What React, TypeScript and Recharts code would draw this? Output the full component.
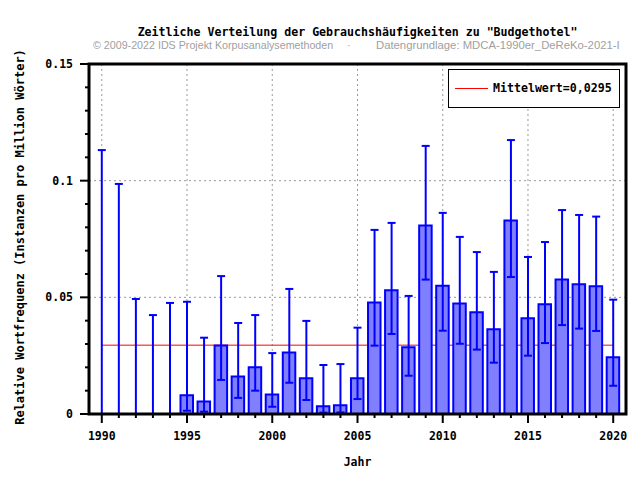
import {
  ComposedChart,
  Bar,
  Scatter,
  ErrorBar,
  XAxis,
  YAxis,
  CartesianGrid,
  ReferenceLine,
  ReferenceArea,
} from 'recharts';

const YEARS = [
  1990, 1991, 1992, 1993, 1994, 1995, 1996, 1997, 1998, 1999, 2000,
  2001, 2002, 2003, 2004, 2005, 2006, 2007, 2008, 2009, 2010,
  2011, 2012, 2013, 2014, 2015, 2016, 2017, 2018, 2019, 2020,
];

const VALUES = [
  0, 0, 0, 0, 0, 0.008, 0.0054, 0.0294, 0.0161, 0.02, 0.0084,
  0.0264, 0.0153, 0.0033, 0.0037, 0.0153, 0.0478, 0.053, 0.0286, 0.0808, 0.055,
  0.0474, 0.0436, 0.0363, 0.0829, 0.041, 0.047, 0.0576, 0.0556, 0.0547, 0.0243,
];

const UPPER = [
  0.1131, 0.0986, 0.0493, 0.0424, 0.0476, 0.0481, 0.0327, 0.0591, 0.039, 0.0424, 0.0261,
  0.0536, 0.0399, 0.021, 0.0214, 0.037, 0.0789, 0.0819, 0.0506, 0.1149, 0.0862,
  0.0759, 0.0694, 0.0609, 0.1174, 0.0673, 0.0737, 0.0874, 0.0853, 0.0846, 0.049,
];

const LOWER = [
  0, 0, 0, 0, 0, 0.0014, 0.001, 0.0146, 0.0069, 0.01, 0.0031,
  0.0134, 0.006, 0.0006, 0.0007, 0.0064, 0.0293, 0.0343, 0.0164, 0.0576, 0.0357,
  0.0301, 0.0276, 0.022, 0.0587, 0.025, 0.0304, 0.0381, 0.0366, 0.0356, 0.0121,
];

const MEAN = 0.0295;

const X_MAJOR = [1990, 1995, 2000, 2005, 2010, 2015, 2020];
const Y_TICKS = [
  0, 0.01, 0.02, 0.03, 0.04, 0.05, 0.06, 0.07, 0.08, 0.09, 0.1,
  0.11, 0.12, 0.13, 0.14, 0.15,
];
const Y_LABELS: Record<string, string> = { '0': '0', '0.05': '0.05', '0.1': '0.1', '0.15': '0.15' };
const Y_GRID = [0.05, 0.1];

const X_DOMAIN = [1989.25, 2020.75];
const Y_DOMAIN = [0, 0.15];

const MONO = '"DejaVu Sans Mono", monospace';
const SANS = '"Liberation Sans", Arial, sans-serif';

// error bar offsets are relative to the bar value
const rows = YEARS.map((year, i) => ({
  year,
  value: VALUES[i],
  err: [VALUES[i] - LOWER[i], UPPER[i] - VALUES[i]],
}));

const XTick = ({ x, y, payload }: any) => {
  const major = X_MAJOR.includes(payload.value);
  return (
    <g>
      <line x1={x} x2={x} y1={y} y2={y + (major ? 9 : 4)} stroke="#000" strokeWidth={2} />
      {major && (
        <text x={x} y={y + 26} textAnchor="middle" fontFamily={MONO} fontWeight="bold" fontSize={11.5} fill="#000">
          {payload.value}
        </text>
      )}
    </g>
  );
};

const YTick = ({ x, y, payload }: any) => {
  const label = Y_LABELS[String(payload.value)];
  return (
    <g>
      <line x1={x - (label ? 9 : 4)} x2={x} y1={y} y2={y} stroke="#000" strokeWidth={2} />
      {label && (
        <text x={x - 16} y={y + 4} textAnchor="end" fontFamily={MONO} fontWeight="bold" fontSize={11.5} fill="#000">
          {label}
        </text>
      )}
    </g>
  );
};

export default function App() {
  return (
    <div style={{ position: 'absolute', left: 0, top: 0, width: 640, height: 480, background: '#fff' }}>
      <div
        style={{
          position: 'absolute', left: 89, top: 27.5, width: 537, textAlign: 'center',
          fontFamily: MONO, fontWeight: 'bold', fontSize: 11.6, lineHeight: '9px', color: '#000',
        }}
      >
        Zeitliche Verteilung der Gebrauchshäufigkeiten zu "Budgethotel"
      </div>
      <div style={{ position: 'absolute', left: 93, top: 40.8, fontFamily: SANS, fontSize: 10.7, lineHeight: '9px', color: '#a0a0a0', whiteSpace: 'pre' }}>
        © 2009-2022 IDS Projekt Korpusanalysemethoden
      </div>
      <div style={{ position: 'absolute', left: 347, top: 40.8, fontFamily: SANS, fontSize: 10.7, lineHeight: '9px', color: '#a0a0a0' }}>
        ·
      </div>
      <div style={{ position: 'absolute', left: 376, top: 40.6, fontFamily: SANS, fontSize: 11.3, lineHeight: '9px', color: '#a0a0a0', whiteSpace: 'pre' }}>
        Datengrundlage: MDCA-1990er_DeReKo-2021-I
      </div>

      <ComposedChart width={640} height={480} data={rows} margin={{ top: 64, right: 14, bottom: 0, left: 0 }}>
        <CartesianGrid
          stroke="#999"
          strokeDasharray="2 3"
          verticalValues={X_MAJOR}
          horizontalValues={Y_GRID}
        />
        <XAxis
          dataKey="year"
          type="number"
          domain={X_DOMAIN}
          allowDataOverflow
          ticks={YEARS}
          interval={0}
          height={66}
          tickSize={0}
          tickMargin={0}
          axisLine={false}
          tickLine={false}
          tick={<XTick />}
          label={() => (
            <text x={357.5} y={466} textAnchor="middle" fontFamily={MONO} fontWeight="bold" fontSize={11.5} fill="#000">
              Jahr
            </text>
          )}
        />
        <YAxis
          type="number"
          domain={Y_DOMAIN}
          allowDataOverflow
          ticks={Y_TICKS}
          interval={0}
          width={89}
          tickSize={0}
          tickMargin={0}
          axisLine={false}
          tickLine={false}
          tick={<YTick />}
          label={() => (
            <text
              x={19.5}
              y={237}
              transform="rotate(-90 19.5 237)"
              textAnchor="middle"
              dominantBaseline="central"
              fontFamily={MONO}
              fontWeight="bold"
              fontSize={12}
              fill="#000"
            >
              Relative Wortfrequenz (Instanzen pro Million Wörter)
            </text>
          )}
        />
        <ReferenceLine
          segment={[{ x: YEARS[0], y: MEAN }, { x: YEARS[YEARS.length - 1], y: MEAN }]}
          stroke="#ff0000"
          strokeWidth={1}
          zIndex={250}
        />
        <Bar dataKey="value" barSize={12.5} fill="#8080ff" stroke="#0000ff" strokeWidth={2} isAnimationActive={false} />
        {/* whiskers on a hidden scatter so zero-height years still get them */}
        <Scatter dataKey="value" shape={() => <g />} isAnimationActive={false}>
          <ErrorBar dataKey="err" direction="y" width={4} strokeWidth={2} stroke="#0000ff" isAnimationActive={false} />
        </Scatter>
        <ReferenceArea
          x1={X_DOMAIN[0]}
          x2={X_DOMAIN[1]}
          y1={Y_DOMAIN[0]}
          y2={Y_DOMAIN[1]}
          fill="none"
          fillOpacity={0}
          stroke="#000"
          strokeWidth={3}
          ifOverflow="visible"
          zIndex={1500}
        />
      </ComposedChart>

      <div
        style={{
          position: 'absolute', left: 448, top: 69, width: 170, height: 37,
          border: '1px solid #000', background: '#fff',
        }}
      >
        <div style={{ position: 'absolute', left: 6, top: 18, width: 33, height: 1, background: '#ff0000' }} />
        <div
          style={{
            position: 'absolute', left: 44, top: 12, fontFamily: MONO, fontWeight: 'bold',
            fontSize: 11.6, lineHeight: '13px', color: '#000', whiteSpace: 'pre',
          }}
        >
          Mittelwert=0,0295
        </div>
      </div>
    </div>
  );
}
